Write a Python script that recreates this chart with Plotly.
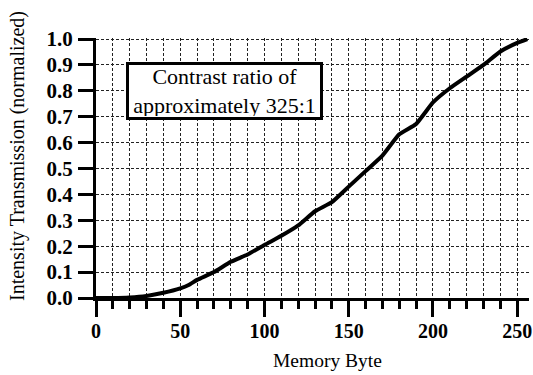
import plotly.graph_objects as go

memory_byte = [0, 10, 20, 30, 40, 50, 55, 60, 70, 80, 90, 100, 110, 120, 130, 140,
               150, 160, 170, 180, 190, 200, 210, 220, 230, 240, 250, 256]
transmission = [0.0, 0.0, 0.002, 0.008, 0.02, 0.037, 0.05, 0.07, 0.1, 0.14, 0.168, 0.205,
                0.24, 0.28, 0.335, 0.37, 0.43, 0.49, 0.55, 0.632, 0.672, 0.755, 0.81,
                0.855, 0.9, 0.952, 0.985, 1.0]
x_ticks = [0, 50, 100, 150, 200, 250]
y_ticks = [0.0, 0.1, 0.2, 0.3, 0.4, 0.5, 0.6, 0.7, 0.8, 0.9, 1.0]
y_tick_text = ["%.1f" % v for v in y_ticks]
note_text = "Contrast ratio of<br>approximately 325:1"
x_title = "Memory Byte"
y_title = "Intensity Transmission (normalized)"

FONT = "Liberation Serif"
PLOT_W = 433
PLOT_H = 260

fig = go.Figure()
fig.add_trace(go.Scatter(
    x=memory_byte, y=transmission, mode="lines",
    line=dict(color="black", width=4, shape="spline", smoothing=0.4),
    cliponaxis=False, showlegend=False, hoverinfo="skip"))

fig.add_annotation(
    x=76.3, y=0.798, xref="x", yref="y", text=note_text, showarrow=False,
    font=dict(family=FONT, size=22, color="black"),
    bgcolor="white", bordercolor="black", borderwidth=3, borderpad=1,
    width=189, height=50, align="center")

# axis titles placed as annotations to match the reference's offsets
fig.add_annotation(
    x=0.50 + 15 / PLOT_W, y=-62 / PLOT_H, xref="paper", yref="paper", text=x_title,
    showarrow=False, xanchor="center", yanchor="middle",
    font=dict(family=FONT, size=19.5, color="black"))
fig.add_annotation(
    x=-79 / PLOT_W, y=142 / PLOT_H, xref="paper", yref="paper", text=y_title,
    showarrow=False, textangle=-90, xanchor="center", yanchor="middle",
    font=dict(family=FONT, size=20, color="black"))

grid_dash = "3px,2px"
fig.update_xaxes(
    range=[0, 257], tickmode="array", tickvals=x_ticks,
    ticktext=[str(v) for v in x_ticks],
    ticks="outside", ticklen=16, tickwidth=3, tickcolor="black",
    showline=True, linewidth=3, linecolor="black",
    showgrid=True, gridcolor="#222", gridwidth=1, griddash=grid_dash,
    zeroline=False, automargin=False,
    minor=dict(dtick=10, tick0=0, ticks="outside", ticklen=8, tickwidth=3,
               tickcolor="black", showgrid=True, gridcolor="#222", gridwidth=1,
               griddash=grid_dash),
    tickfont=dict(family=FONT, size=20, color="black", weight="bold"),
    ticklabelstandoff=-3,
)
fig.update_yaxes(
    range=[0, 1.004], tickmode="array", tickvals=y_ticks, ticktext=y_tick_text,
    ticks="outside", ticklen=15, tickwidth=3, tickcolor="black",
    showline=True, linewidth=3, linecolor="black",
    showgrid=True, gridcolor="#222", gridwidth=1, griddash=grid_dash,
    zeroline=False, automargin=False,
    tickfont=dict(family=FONT, size=21, color="black", weight="bold"),
    ticklabelstandoff=1,
)
fig.update_layout(
    width=533, height=375,
    margin=dict(l=96, r=4, t=38, b=77),
    plot_bgcolor="white", paper_bgcolor="white",
    font=dict(family=FONT, color="black"),
)
# remove the browser's default 8px body margin so the figure fills the window
fig.write_html("out.html",
               config={"displayModeBar": False, "staticPlot": True},
               post_script="document.body.style.margin='0';document.body.style.overflow='hidden';")
